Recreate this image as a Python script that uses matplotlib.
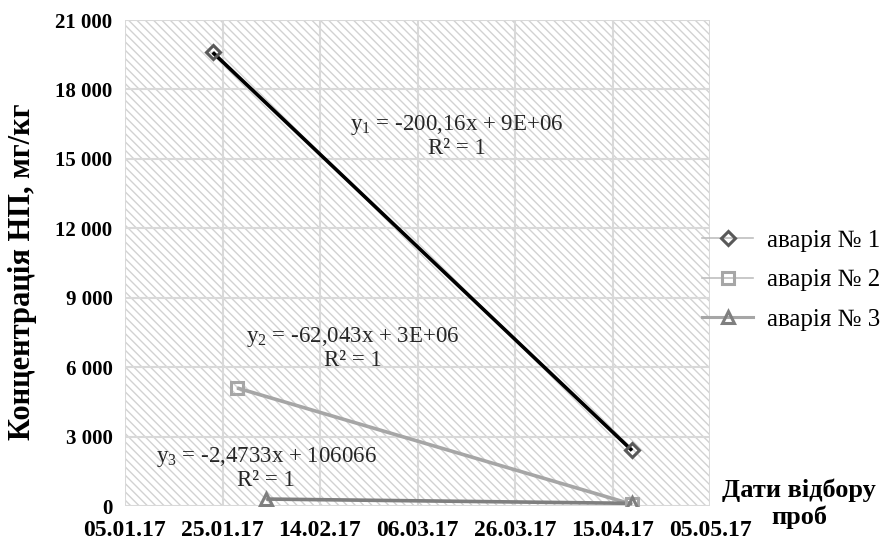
import datetime as dt
import numpy as np
import matplotlib
matplotlib.use("Agg")
import matplotlib.pyplot as plt
import matplotlib.dates as mdates
from matplotlib.patches import Rectangle
from matplotlib.lines import Line2D
from matplotlib.ticker import FuncFormatter, MultipleLocator, FixedLocator

plt.rcParams['font.family'] = ['Liberation Serif', 'DejaVu Serif']
plt.rcParams['mathtext.fontset'] = 'custom'
plt.rcParams['mathtext.rm'] = 'Liberation Serif'
plt.rcParams['mathtext.it'] = 'Liberation Serif:italic'
plt.rcParams['hatch.linewidth'] = 1.0

# Sampling dates and oil-product concentrations (mg/kg) for each accident
series_names = ['аварія № 1', 'аварія № 2', 'аварія № 3']
dates_1 = ['2017-01-23', '2017-04-19']
conc_1 = [19600, 2400]
dates_2 = ['2017-01-28', '2017-04-19']
conc_2 = [5100, 75]
dates_3 = ['2017-02-03', '2017-04-19']
conc_3 = [300, 115]
equations = ['$\\mathrm{y}_1$ = -200,16x + 9E+06\nR² = 1',
             '$\\mathrm{y}_2$ = -62,043x + 3E+06\nR² = 1',
             '$\\mathrm{y}_3$ = -2,4733x + 106066\nR² = 1']
x_start, x_end = '2017-01-05', '2017-05-05'
x_step_days = 20

def to_num(ds):
    return mdates.date2num([dt.datetime.strptime(d, '%Y-%m-%d') for d in ds])

fig = plt.figure(figsize=(8.84, 5.44), dpi=100)
ax = fig.add_axes([125 / 884, 38 / 544, 585 / 884, 486 / 544])

# hatched plot-area background
ax.add_patch(Rectangle((0, 0), 1, 1, transform=ax.transAxes, facecolor='white',
                       edgecolor='#d2d2d2', hatch='\\\\\\\\', lw=0, zorder=0))

styles = [
    dict(marker='D', ms=7, mec='#595959', line='#bfbfbf', trend='black'),
    dict(marker='s', ms=9, mec='#a6a6a6', line='#bfbfbf', trend='#a6a6a6'),
    dict(marker='^', ms=9, mec='#7f7f7f', line='#a6a6a6', trend='#7f7f7f'),
]
all_dates = [dates_1, dates_2, dates_3]
all_conc = [conc_1, conc_2, conc_3]

handles = []
for ds, cs, st in zip(all_dates, all_conc, styles):
    xs = to_num(ds)
    ax.plot(xs, cs, color=st['line'], lw=1, zorder=3)
    # linear trendline through the samples
    k, b = np.polyfit(xs, cs, 1)
    xt = np.array([xs.min(), xs.max()])
    ax.plot(xt, k * xt + b, color=st['trend'], lw=2.6, zorder=4,
            solid_capstyle='butt')
    ax.plot(xs, cs, ls='none', marker=st['marker'], ms=st['ms'], mfc='none',
            mec=st['mec'], mew=2.2, zorder=5)
    handles.append(Line2D([], [], color=st['line'], lw=1.2 if st['marker'] != '^' else 2.2,
                          marker=st['marker'], ms=st['ms'], mfc='none',
                          mec=st['mec'], mew=2.2))

eq_pos = [(0.567, 0.761), (0.390, 0.325), (0.241, 0.078)]
for txt, (px, py) in zip(equations, eq_pos):
    ax.text(px, py, txt, transform=ax.transAxes, ha='center', va='center',
            multialignment='center', fontsize=16.5, color='#262626', zorder=6,
            linespacing=1.1)

x0, x1 = to_num([x_start])[0], to_num([x_end])[0]
ax.set_xlim(x0, x1)
ax.set_ylim(0, 21000)
ax.xaxis.set_major_locator(FixedLocator(np.arange(x0, x1 + 1, x_step_days)))
ax.xaxis.set_major_formatter(mdates.DateFormatter('%d.%m.%y'))
ax.yaxis.set_major_locator(MultipleLocator(3000))
ax.yaxis.set_major_formatter(FuncFormatter(lambda v, p: f'{int(v):,}'.replace(',', ' ')))
ax.grid(True, color='#d9d9d9', lw=1.5, zorder=1)
for s in ax.spines.values():
    s.set_visible(False)
ax.tick_params(axis='y', length=0, labelsize=15, pad=9)
ax.tick_params(axis='x', length=0, labelsize=17, pad=10)
for lab in ax.get_xticklabels() + ax.get_yticklabels():
    lab.set_fontweight('bold')
ax.get_yticklabels()[0].set_va('bottom')

fig.text(0.026, 0.50, 'Концентрація НП, мг/кг', rotation=90, ha='center',
         va='center', fontsize=22, fontweight='bold')
fig.text(0.904, 0.099, 'Дати відбору', ha='center', va='center',
         fontsize=19, fontweight='bold')
fig.text(0.904, 0.049, 'проб', ha='center', va='center',
         fontsize=19, fontweight='bold')

fig.legend(handles, series_names, loc='center left', bbox_to_anchor=(702 / 884, 0.485),
           frameon=False, fontsize=18, handlelength=2.04, labelspacing=0.68,
           handletextpad=0.56, borderpad=0, borderaxespad=0)

fig.savefig('out.png', dpi=100)
